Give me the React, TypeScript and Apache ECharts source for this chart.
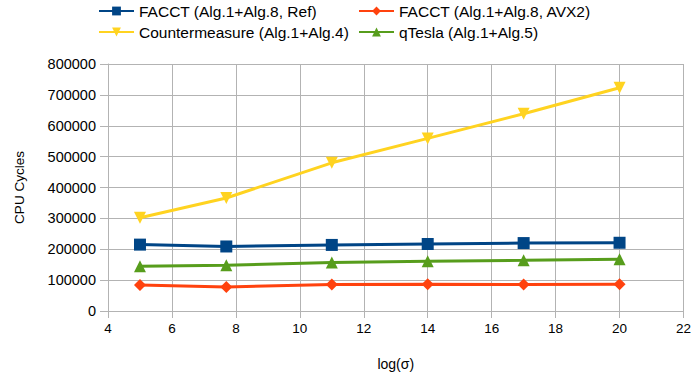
import React, { useEffect, useRef } from "react";
import * as echarts from "echarts";

const xValues = [5, 7.7, 11, 14, 17, 20];
const faccRef = [215000, 209000, 214000, 217000, 220000, 221000];
const faccAvx2 = [84000, 78000, 86000, 87000, 86000, 87000];
const counter = [302000, 366000, 480000, 559000, 639000, 723000];
const qtesla = [145000, 148000, 157000, 161000, 164000, 168000];

const names = [
  "FACCT (Alg.1+Alg.8, Ref)",
  "FACCT (Alg.1+Alg.8, AVX2)",
  "Countermeasure (Alg.1+Alg.4)",
  "qTesla (Alg.1+Alg.5)",
];
const colors = ["#004586", "#ff420e", "#ffd320", "#579d1c"];
const symbols = ["rect", "diamond", "triangle", "triangle"];
const rotates = [0, 0, 180, 0];
const dataSets = [faccRef, faccAvx2, counter, qtesla];

export default function App() {
  const ref = useRef<HTMLDivElement>(null);
  useEffect(() => {
    if (!ref.current) return;
    const chart = echarts.init(ref.current, null, { renderer: "svg" });
    const font = "Liberation Sans, Arial, sans-serif";
    const legendPos = [
      { left: 98, top: 3 },
      { left: 358, top: 3 },
      { left: 98, top: 24 },
      { left: 358, top: 24 },
    ];
    chart.setOption({
      animation: false,
      legend: names.map((n, i) => ({
        data: [n],
        left: legendPos[i].left,
        top: legendPos[i].top,
        itemWidth: 35,
        itemHeight: 11,
        itemGap: 6,
        padding: 0,
        textStyle: { fontFamily: font, fontSize: 15.5, color: "#000" },
      })),
      grid: { left: 108, right: 8, top: 64, bottom: 63 },
      xAxis: {
        type: "value",
        min: 4,
        max: 22,
        interval: 2,
        name: "log(σ)",
        nameLocation: "middle",
        nameGap: 46,
        nameTextStyle: { fontFamily: font, fontSize: 14, color: "#000" },
        axisLine: { show: true, lineStyle: { color: "#b3b3b3" } },
        axisTick: { show: true, length: 7, lineStyle: { color: "#b3b3b3" } },
        axisLabel: { fontFamily: font, fontSize: 13.5, color: "#000", margin: 10 },
        splitLine: { show: true, lineStyle: { color: "#b3b3b3" } },
      },
      yAxis: {
        type: "value",
        min: 0,
        max: 800000,
        interval: 100000,
        name: "CPU Cycles",
        nameLocation: "middle",
        nameGap: 82,
        nameTextStyle: { fontFamily: font, fontSize: 13.5, color: "#000" },
        axisLine: { show: true, lineStyle: { color: "#b3b3b3" } },
        axisTick: { show: true, length: 8, lineStyle: { color: "#b3b3b3" } },
        axisLabel: {
          fontFamily: font,
          fontSize: 14.5,
          color: "#000",
          margin: 12,
          formatter: (v: number) => String(v),
        },
        splitLine: { show: true, lineStyle: { color: "#b3b3b3" } },
      },
      series: names.map((n, i) => ({
        name: n,
        type: "line",
        data: xValues.map((x, j) => [x, dataSets[i][j]]),
        symbol: symbols[i],
        symbolRotate: rotates[i],
        symbolSize: 12,
        itemStyle: { color: colors[i] },
        lineStyle: { color: colors[i], width: 3 },
        z: [3, 2, 1, 2][i],
      })),
    });
    return () => chart.dispose();
  }, []);
  return <div ref={ref} style={{ width: 694, height: 376, position: "absolute", left: 0, top: 0 }} />;
}
